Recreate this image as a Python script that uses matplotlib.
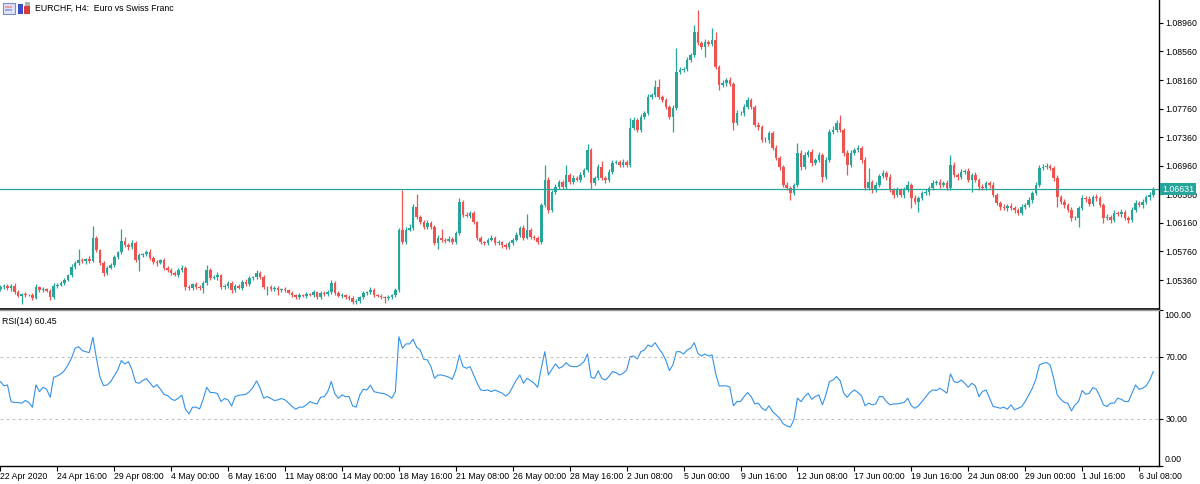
import matplotlib
matplotlib.use('Agg')
import matplotlib.pyplot as plt
from matplotlib.patches import Rectangle
import numpy as np

plt.rcParams['font.family'] = ['Liberation Sans', 'DejaVu Sans']

# EURCHF H4 closes (one row = 16 bars = one date label)
closes = [
    1.0526, 1.0528, 1.0525, 1.0528, 1.0519, 1.0514, 1.0516, 1.0515, 1.0515, 1.0511, 1.0526, 1.0522, 1.0523, 1.0521, 1.0512, 1.0528,
    1.0529, 1.0532, 1.0536, 1.0543, 1.0554, 1.0560, 1.0564, 1.0563, 1.0565, 1.0563, 1.0595, 1.0578, 1.0560, 1.0546, 1.0553, 1.0557,
    1.0568, 1.0575, 1.0591, 1.0585, 1.0582, 1.0588, 1.0564, 1.0571, 1.0572, 1.0575, 1.0567, 1.0561, 1.0560, 1.0564, 1.0553, 1.0550,
    1.0546, 1.0543, 1.0550, 1.0553, 1.0526, 1.0525, 1.0530, 1.0526, 1.0525, 1.0532, 1.0550, 1.0539, 1.0540, 1.0543, 1.0526, 1.0528,
    1.0532, 1.0522, 1.0528, 1.0525, 1.0533, 1.0530, 1.0539, 1.0540, 1.0546, 1.0540, 1.0526, 1.0526, 1.0523, 1.0525, 1.0522, 1.0523,
    1.0522, 1.0518, 1.0515, 1.0512, 1.0515, 1.0514, 1.0516, 1.0515, 1.0519, 1.0512, 1.0518, 1.0516, 1.0519, 1.0532, 1.0518, 1.0514,
    1.0515, 1.0512, 1.0511, 1.0505, 1.0507, 1.0512, 1.0518, 1.0519, 1.0522, 1.0515, 1.0514, 1.0512, 1.0511, 1.0512, 1.0515, 1.0522,
    1.0606, 1.0589, 1.0606, 1.0609, 1.0638, 1.0624, 1.0617, 1.0610, 1.0616, 1.0610, 1.0588, 1.0595, 1.0592, 1.0591, 1.0593, 1.0589,
    1.0602, 1.0645, 1.0627, 1.0626, 1.0630, 1.0617, 1.0595, 1.0589, 1.0588, 1.0592, 1.0595, 1.0588, 1.0589, 1.0585, 1.0582, 1.0588,
    1.0592, 1.0599, 1.0609, 1.0595, 1.0606, 1.0596, 1.0595, 1.0589, 1.0641, 1.0676, 1.0634, 1.0659, 1.0666, 1.0673, 1.0666, 1.0683,
    1.0673, 1.0679, 1.0676, 1.0683, 1.0690, 1.0718, 1.0672, 1.0679, 1.0694, 1.0679, 1.0676, 1.0687, 1.0700, 1.0701, 1.0697, 1.0701,
    1.0697, 1.0749, 1.0760, 1.0746, 1.0764, 1.0770, 1.0792, 1.0795, 1.0806, 1.0792, 1.0788, 1.0778, 1.0764, 1.0777, 1.0827, 1.0830,
    1.0831, 1.0844, 1.0851, 1.0883, 1.0868, 1.0862, 1.0869, 1.0866, 1.0872, 1.0834, 1.0809, 1.0812, 1.0816, 1.0810, 1.0756, 1.0770,
    1.0770, 1.0778, 1.0788, 1.0778, 1.0753, 1.0750, 1.0732, 1.0732, 1.0742, 1.0721, 1.0707, 1.0694, 1.0669, 1.0665, 1.0658, 1.0669,
    1.0714, 1.0694, 1.0711, 1.0715, 1.0700, 1.0704, 1.0711, 1.0680, 1.0704, 1.0743, 1.0746, 1.0756, 1.0746, 1.0714, 1.0697, 1.0714,
    1.0718, 1.0721, 1.0704, 1.0665, 1.0673, 1.0662, 1.0669, 1.0682, 1.0686, 1.0680, 1.0662, 1.0655, 1.0662, 1.0655, 1.0662, 1.0669,
    1.0651, 1.0645, 1.0651, 1.0658, 1.0659, 1.0665, 1.0672, 1.0673, 1.0669, 1.0672, 1.0665, 1.0697, 1.0683, 1.0680, 1.0687, 1.0689,
    1.0676, 1.0683, 1.0676, 1.0666, 1.0665, 1.0672, 1.0669, 1.0655, 1.0644, 1.0638, 1.0637, 1.0640, 1.0637, 1.0634, 1.0630, 1.0638,
    1.0641, 1.0648, 1.0658, 1.0669, 1.0693, 1.0694, 1.0696, 1.0693, 1.0679, 1.0652, 1.0645, 1.0641, 1.0634, 1.0623, 1.0623, 1.0637,
    1.0651, 1.0649, 1.0642, 1.0652, 1.0651, 1.0641, 1.0623, 1.0624, 1.0620, 1.0630, 1.0628, 1.0631, 1.0623, 1.0620, 1.0634, 1.0644,
    1.0641, 1.0645, 1.0652, 1.0655, 1.06631,
]
first_open = 1.0524

# wick lengths above / below the body, in pips
wick_up = [
    3, 2, 3, 2, 4, 3, 2, 3, 2, 3, 4, 2, 3, 2, 3, 4,
    3, 2, 3, 2, 4, 3, 16, 3, 2, 4, 16, 3, 2, 3, 2, 3,
    3, 2, 17, 5, 3, 4, 3, 3, 2, 3, 4, 2, 3, 2, 3, 2,
    3, 2, 3, 4, 2, 3, 2, 3, 3, 2, 7, 3, 3, 4, 2, 3,
    3, 2, 3, 2, 3, 4, 3, 2, 4, 3, 3, 2, 3, 2, 3, 2,
    3, 2, 3, 2, 3, 2, 3, 2, 3, 2, 3, 2, 3, 4, 3, 2,
    3, 2, 3, 2, 3, 2, 3, 2, 4, 3, 2, 3, 2, 3, 2, 3,
    3, 56, 4, 5, 4, 19, 3, 3, 4, 3, 3, 4, 12, 3, 4, 3,
    3, 6, 3, 4, 3, 3, 2, 3, 2, 3, 4, 2, 3, 2, 3, 3,
    3, 4, 3, 4, 23, 3, 3, 2, 3, 21, 4, 3, 4, 3, 3, 14,
    3, 4, 3, 4, 3, 9, 3, 3, 4, 9, 3, 4, 4, 3, 3, 4,
    3, 14, 4, 3, 4, 3, 4, 3, 10, 11, 3, 3, 3, 4, 34, 4,
    3, 4, 3, 10, 31, 3, 4, 3, 17, 11, 3, 4, 3, 4, 3, 4,
    3, 4, 4, 3, 3, 4, 3, 4, 3, 3, 4, 3, 3, 4, 3, 3,
    14, 4, 4, 3, 5, 3, 4, 3, 4, 4, 5, 4, 11, 3, 4, 4,
    3, 4, 3, 4, 20, 3, 4, 3, 4, 3, 4, 3, 4, 3, 4, 5,
    3, 4, 3, 3, 4, 3, 4, 3, 4, 3, 4, 14, 4, 3, 4, 3,
    4, 3, 4, 3, 4, 3, 3, 4, 3, 3, 4, 3, 4, 3, 3, 4,
    3, 4, 3, 4, 4, 4, 4, 3, 3, 4, 3, 4, 3, 4, 3, 3,
    4, 3, 4, 3, 4, 3, 3, 4, 3, 4, 3, 4, 3, 3, 4, 4,
    3, 4, 3, 4, 3,
]
wick_dn = [
    3, 2, 3, 4, 3, 2, 11, 3, 2, 3, 2, 3, 3, 2, 4, 3,
    3, 2, 3, 2, 3, 2, 3, 3, 4, 3, 2, 3, 3, 4, 3, 2,
    3, 2, 3, 3, 4, 3, 3, 16, 3, 2, 3, 3, 4, 2, 3, 3,
    3, 2, 3, 3, 4, 3, 3, 2, 3, 7, 3, 3, 2, 4, 3, 3,
    3, 4, 3, 2, 3, 3, 2, 3, 3, 2, 3, 11, 3, 2, 7, 3,
    3, 2, 3, 2, 3, 2, 3, 2, 3, 2, 3, 2, 3, 2, 3, 2,
    3, 2, 3, 3, 2, 3, 2, 3, 2, 3, 2, 3, 7, 3, 2, 3,
    3, 3, 3, 2, 3, 3, 3, 3, 2, 3, 3, 9, 3, 3, 2, 3,
    3, 3, 3, 2, 3, 3, 3, 2, 3, 3, 2, 3, 3, 4, 3, 3,
    3, 2, 3, 3, 2, 3, 3, 3, 2, 3, 4, 3, 3, 2, 3, 3,
    3, 3, 2, 3, 3, 3, 9, 3, 3, 3, 4, 3, 3, 2, 3, 3,
    3, 3, 3, 3, 3, 2, 3, 3, 3, 3, 3, 3, 3, 21, 3, 3,
    3, 3, 3, 3, 3, 3, 14, 3, 3, 3, 7, 3, 4, 3, 10, 3,
    3, 4, 3, 3, 3, 4, 3, 3, 4, 3, 3, 4, 3, 3, 10, 3,
    3, 4, 3, 3, 4, 3, 3, 7, 3, 3, 3, 3, 3, 4, 14, 3,
    3, 3, 4, 3, 3, 4, 3, 3, 3, 4, 3, 4, 3, 3, 4, 3,
    14, 3, 14, 3, 3, 4, 3, 3, 4, 3, 3, 3, 3, 4, 3, 3,
    3, 17, 3, 4, 3, 3, 4, 3, 3, 4, 3, 4, 3, 4, 3, 3,
    3, 3, 4, 3, 3, 3, 3, 3, 4, 14, 3, 4, 3, 4, 3, 13,
    3, 4, 3, 3, 4, 3, 7, 3, 4, 3, 3, 4, 3, 4, 3, 3,
    3, 4, 3, 4, 3,
]

# RSI(14) values per bar
rsi = [
    54.0, 51.2, 51.8, 41.1, 40.5, 40.5, 40.1, 41.8, 40.5, 37.5, 51.8, 47.5, 50.3, 49.0, 43.9, 56.8,
    57.6, 58.9, 61.0, 64.7, 69.0, 75.4, 76.4, 73.9, 73.2, 72.6, 82.4, 69.0, 56.8, 51.4, 51.8, 54.0,
    57.6, 61.5, 67.5, 65.3, 66.8, 61.5, 53.5, 52.9, 54.6, 55.9, 53.3, 50.3, 52.0, 49.0, 45.6, 45.0,
    42.8, 41.8, 43.3, 45.2, 36.2, 33.2, 37.5, 37.5, 36.4, 42.6, 50.3, 46.9, 46.9, 46.3, 41.1, 43.1,
    42.2, 38.3, 44.3, 45.2, 45.4, 45.8, 47.5, 50.3, 54.4, 49.7, 43.3, 44.3, 43.1, 41.8, 42.2, 43.1,
    42.2, 40.1, 37.9, 36.2, 37.5, 37.5, 39.0, 41.1, 40.1, 39.6, 43.9, 44.3, 47.5, 54.0, 46.1, 43.3,
    45.4, 44.3, 44.3, 38.3, 37.5, 45.4, 49.0, 48.6, 51.6, 47.5, 46.9, 46.5, 46.1, 45.0, 43.3, 47.5,
    82.8, 75.4, 78.2, 78.2, 81.2, 76.0, 74.3, 68.3, 67.9, 63.6, 56.1, 58.2, 58.2, 57.6, 56.8, 55.4,
    61.4, 71.1, 63.6, 62.5, 63.6, 58.2, 52.9, 48.6, 48.2, 48.6, 47.5, 48.6, 47.5, 46.5, 44.7, 46.5,
    50.7, 55.0, 58.2, 52.9, 56.1, 54.6, 52.9, 50.3, 62.5, 73.2, 58.2, 61.9, 65.3, 62.5, 63.6, 66.1,
    64.0, 63.6, 63.6, 64.7, 66.8, 71.7, 56.7, 56.1, 61.0, 56.0, 55.0, 57.2, 60.4, 59.7, 58.2, 59.3,
    61.4, 70.0, 70.4, 68.5, 73.2, 74.3, 77.5, 76.4, 79.0, 75.4, 72.2, 67.9, 61.0, 64.7, 73.2, 73.2,
    71.7, 74.3, 75.4, 79.0, 72.2, 70.4, 71.7, 70.4, 71.1, 59.3, 51.2, 51.2, 51.2, 50.4, 38.4, 41.1,
    41.1, 44.3, 46.9, 44.3, 39.6, 40.1, 36.9, 35.4, 38.4, 34.7, 32.6, 30.4, 26.8, 25.5, 24.7, 29.4,
    43.3, 41.1, 44.3, 46.5, 42.6, 44.3, 45.4, 39.0, 45.4, 54.0, 55.0, 57.2, 54.5, 46.5, 43.9, 46.9,
    48.6, 46.9, 44.8, 38.4, 40.1, 39.0, 39.6, 44.3, 44.3, 41.1, 39.0, 39.6, 39.6, 40.1, 40.5, 43.3,
    38.4, 36.8, 38.4, 41.1, 43.9, 46.9, 48.6, 48.2, 49.7, 48.2, 46.5, 58.9, 54.0, 53.3, 55.0, 52.9,
    50.3, 52.9, 51.2, 44.3, 47.6, 48.6, 43.3, 37.9, 37.5, 36.8, 37.5, 36.2, 39.0, 35.8, 36.8, 37.9,
    41.1, 45.4, 49.7, 55.5, 64.7, 65.7, 66.2, 64.7, 56.0, 45.4, 42.6, 40.5, 40.1, 35.1, 39.0, 41.1,
    48.2, 45.8, 46.5, 50.1, 49.0, 44.3, 39.0, 37.9, 40.1, 40.1, 43.3, 42.6, 41.1, 41.1, 46.5, 51.8,
    49.0, 49.7, 51.2, 55.0, 60.45,
]

date_labels = ['22 Apr 2020', '24 Apr 16:00', '29 Apr 08:00', '4 May 00:00', '6 May 16:00',
               '11 May 08:00', '14 May 00:00', '18 May 16:00', '21 May 08:00', '26 May 00:00',
               '28 May 16:00', '2 Jun 08:00', '5 Jun 00:00', '9 Jun 16:00', '12 Jun 08:00',
               '17 Jun 00:00', '19 Jun 16:00', '24 Jun 08:00', '29 Jun 00:00', '1 Jul 16:00',
               '6 Jul 08:00']
bars_per_label = 16
price_ticks = [1.05360, 1.05760, 1.06160, 1.06560, 1.06960, 1.07360, 1.07760, 1.08160, 1.08560, 1.08960]

BULL = '#26a69a'
BEAR = '#ef5350'
RSI_COL = '#3592e8'
FS = 6.3

opens = [first_open] + closes[:-1]
o = np.array(opens)
c = np.array(closes)
x = np.arange(len(c))
hi = np.maximum(o, c) + np.array(wick_up) * 1e-4
lo = np.minimum(o, c) - np.array(wick_dn) * 1e-4
cols = np.where(c >= o, BULL, BEAR)

fig = plt.figure(figsize=(12, 4.84), dpi=100)
ax1 = fig.add_axes([0, 0.3626, 0.96583, 0.6374])
ax2 = fig.add_axes([0, 0.03822, 0.96583, 0.32128], sharex=ax1)

# candles
ax1.vlines(x, lo, hi, colors=cols, lw=0.9)
ax1.bar(x, np.maximum(np.abs(c - o), 0.00003), bottom=np.minimum(o, c),
        width=0.72, color=cols, linewidth=0)
last = closes[-1]
ax1.axhline(last, color=BULL, lw=0.9)

ax1.set_ylim(1.0928 - 0.00014 * 308.5, 1.0928)
ax1.yaxis.tick_right()
ax1.set_yticks(price_ticks)
ax1.set_yticklabels(['%.5f' % p for p in price_ticks])
ax1.tick_params(axis='y', direction='out', length=3, width=0.8, pad=1.5, labelsize=FS)
ax1.tick_params(axis='x', bottom=False, labelbottom=False)
for s in ['left', 'top']:
    ax1.spines[s].set_visible(False)
ax1.spines['right'].set_linewidth(1.0)
ax1.spines['bottom'].set_linewidth(1.2)

# current price tag sits on top of the axis labels, as in the terminal
ax1.annotate('%.5f' % last, xy=(1, last), xycoords=('axes fraction', 'data'),
             xytext=(2.2, 0), textcoords='offset points', ha='left', va='center',
             fontsize=FS, color='white', zorder=10, annotation_clip=False,
             bbox=dict(boxstyle='square,pad=0.18', fc=BULL, ec='none'))

# RSI pane
ax2.plot(x, rsi, color=RSI_COL, lw=0.8)
for lvl in (30, 70):
    ax2.axhline(lvl, color='#c0c0c0', lw=0.8, ls=(0, (2.5, 3)))
ax2.set_ylim(0, 100)
ax2.yaxis.tick_right()
ax2.set_yticks([0, 30, 70, 100])
ax2.set_yticklabels(['', '30.00', '70.00', ''])
ax2.tick_params(axis='y', direction='out', length=3, width=0.8, pad=1.5, labelsize=FS)
for val, va, dy in ((100, 'top', -1), (0, 'bottom', 1)):
    ax2.annotate('%.2f' % val, xy=(1, val), xycoords=('axes fraction', 'data'),
                 xytext=(3.8, dy), textcoords='offset points', ha='left', va=va, fontsize=FS)
ax2.spines['left'].set_visible(False)
ax2.spines['top'].set_color('#9a9a9a')
ax2.spines['top'].set_linewidth(1.0)
ax2.spines['right'].set_linewidth(1.0)
ax2.spines['bottom'].set_linewidth(1.0)

tick_pos = [i * bars_per_label for i in range(len(date_labels))]
ax2.set_xticks(tick_pos)
ax2.set_xticklabels(date_labels, ha='left')
ax2.tick_params(axis='x', direction='out', length=3.5, width=0.8, pad=1, labelsize=FS)
ax2.set_xlim(-0.1, 325.6)

ax2.text(0.0015, 0.955, 'RSI(14) %.2f' % rsi[-1], transform=ax2.transAxes,
         ha='left', va='top', fontsize=FS)

# title with the two small window icons
fig.text(35 / 1200, 1 - 8 / 484, 'EURCHF, H4:  Euro vs Swiss Franc', ha='left', va='center', fontsize=FS)
W, H = 1200.0, 484.0
def px_rect(x0, y0, w, h, **kw):
    fig.add_artist(Rectangle((x0 / W, 1 - (y0 + h) / H), w / W, h / H, transform=fig.transFigure, **kw))
px_rect(2.5, 2.5, 12, 11, fc='#dfe3f7', ec='#7d8bc4', lw=0.8)
px_rect(5, 5.5, 7, 2, fc='#e8a0a0', ec='none')
px_rect(5, 9, 7, 2, fc='#a0a8e0', ec='none')
px_rect(17.5, 4, 5, 10, fc='#3a4fd0', ec='none')
px_rect(23.5, 6, 6, 8, fc='#d83b3b', ec='none')
px_rect(25, 2.5, 4.5, 3, fc='#b0b0b0', ec='none')

fig.savefig('out.png', dpi=100)
